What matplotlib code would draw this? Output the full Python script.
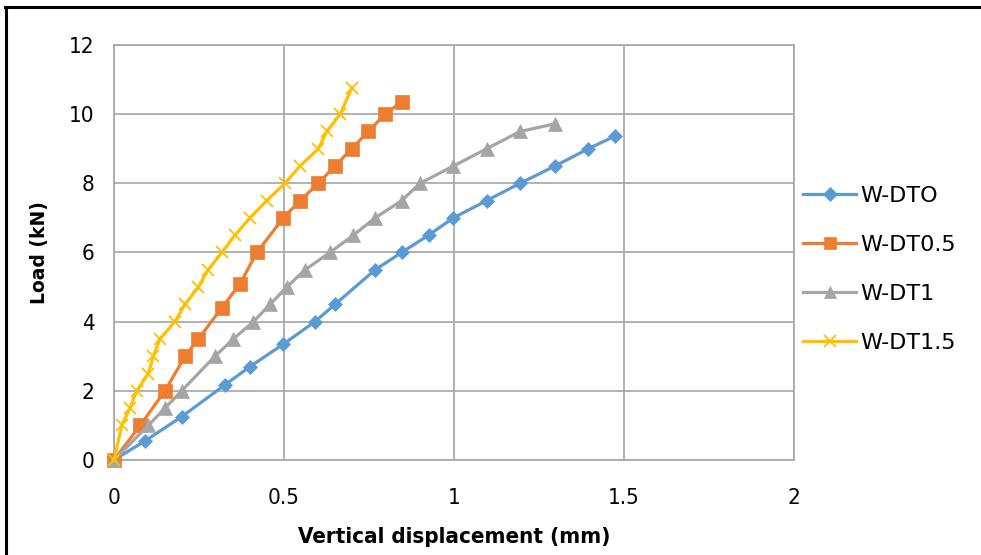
import matplotlib.pyplot as plt
from matplotlib.lines import Line2D

# data
x_dt0 = [0, 0.091, 0.199, 0.326, 0.40, 0.498, 0.591, 0.65, 0.768, 0.846, 0.925, 0.998, 1.096, 1.194, 1.297, 1.395, 1.474]
y_dt0 = [0, 0.55, 1.25, 2.17, 2.7, 3.35, 4.0, 4.5, 5.5, 6.0, 6.5, 7.0, 7.5, 8.0, 8.5, 9.0, 9.37]

x_dt05 = [0, 0.077, 0.15, 0.209, 0.248, 0.317, 0.371, 0.42, 0.498, 0.547, 0.601, 0.65, 0.699, 0.748, 0.797, 0.846]
y_dt05 = [0, 1.0, 2.0, 3.0, 3.5, 4.4, 5.1, 6.0, 7.0, 7.5, 8.0, 8.5, 9.0, 9.5, 10.0, 10.36]

x_dt1 = [0, 0.101, 0.15, 0.199, 0.297, 0.351, 0.41, 0.459, 0.508, 0.562, 0.635, 0.704, 0.768, 0.846, 0.90, 0.998, 1.096, 1.194, 1.297]
y_dt1 = [0, 1.0, 1.5, 2.0, 3.0, 3.5, 4.0, 4.5, 5.0, 5.5, 6.0, 6.5, 7.0, 7.5, 8.0, 8.5, 9.0, 9.5, 9.72]

x_dt15 = [0, 0.023, 0.047, 0.067, 0.101, 0.116, 0.135, 0.179, 0.209, 0.248, 0.277, 0.317, 0.356, 0.40, 0.449, 0.503, 0.547, 0.601, 0.626, 0.665, 0.699]
y_dt15 = [0, 1.0, 1.5, 2.0, 2.5, 3.0, 3.5, 4.0, 4.5, 5.0, 5.5, 6.0, 6.5, 7.0, 7.5, 8.0, 8.5, 9.0, 9.5, 10.0, 10.75]

labels = ["W-DTO", "W-DT0.5", "W-DT1", "W-DT1.5"]
colors = ["#5B9BD5", "#ED7D31", "#A5A5A5", "#FFC000"]
markers = ["D", "s", "^", "x"]
msizes = [7.5, 9.5, 9.5, 9]

fig = plt.figure(figsize=(9.81, 5.55), dpi=100)
ax = fig.add_axes([0.1162, 0.1712, 0.6932, 0.7477])

series = [(x_dt0, y_dt0), (x_dt05, y_dt05), (x_dt1, y_dt1), (x_dt15, y_dt15)]
for (xs, ys), lab, c, m, ms in zip(series, labels, colors, markers, msizes):
    ax.plot(xs, ys, color=c, lw=2.3, marker=m, ms=ms, mew=1.3 if m == "x" else 0.5,
            mec=c, mfc=c, label=lab, zorder=3, clip_on=False)

ax.set_xlim(0, 2)
ax.set_ylim(0, 12)
ax.set_xticks([0, 0.5, 1, 1.5, 2])
ax.set_xticklabels(["0", "0.5", "1", "1.5", "2"])
ax.set_yticks(range(0, 13, 2))
ax.grid(True, color="#A6A6A6", lw=1.2)
ax.set_axisbelow(True)
for s in ax.spines.values():
    s.set_color("#A6A6A6")
    s.set_linewidth(1.2)
ax.tick_params(axis="x", length=0, pad=20, labelsize=16)
ax.tick_params(axis="y", length=0, pad=14, labelsize=16)
for t in ax.get_xticklabels() + ax.get_yticklabels():
    t.set_fontstretch("condensed")

ax.set_xlabel("Vertical displacement (mm)", fontsize=16, fontweight="bold",
              fontstretch="condensed", labelpad=14)
ax.set_ylabel("Load (kN)", fontsize=13.5, fontweight="bold", labelpad=14)

handles = [Line2D([], [], color=c, lw=2.3, marker=m, ms=ms * 0.9, mec=c, mfc=c,
                  mew=1.3 if m == "x" else 0.5)
           for c, m, ms in zip(colors, markers, msizes)]
leg = fig.legend(handles, labels, loc="center left", bbox_to_anchor=(0.798, 0.515),
                 frameon=False, fontsize=16, handlelength=2.4, handletextpad=0.2,
                 labelspacing=1.3)

# frame around the picture (top and left edges visible)
fig.add_artist(Line2D([0.005, 1.0], [0.987, 0.987], color="black", lw=2.2, transform=fig.transFigure))
fig.add_artist(Line2D([0.006, 0.006], [0.0, 0.988], color="black", lw=2.2, transform=fig.transFigure))

plt.savefig("out.png", dpi=100)
